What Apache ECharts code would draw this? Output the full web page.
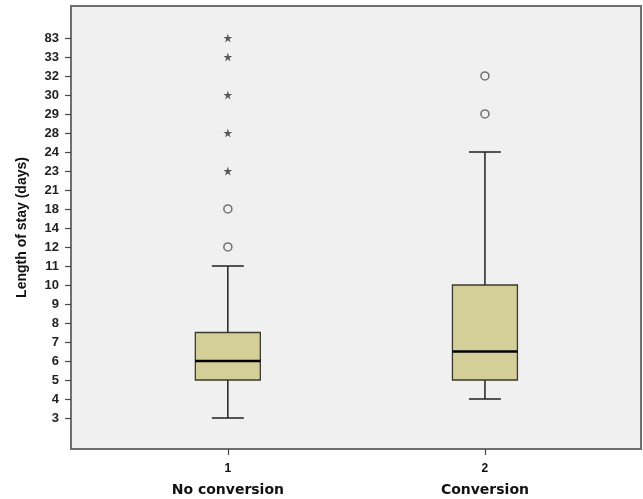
<!DOCTYPE html>
<html>
<head>
<meta charset="utf-8">
<script src="https://cdn.jsdelivr.net/npm/echarts@6/dist/echarts.min.js"></script>
<style>
html,body{margin:0;padding:0;background:#fff;}
#chart{width:643px;height:499px;}
</style>
</head>
<body>
<div id="chart"></div>
<script>
// Ordinal y-axis tick labels (evenly spaced in the original)
const yTickLabels = [3, 4, 5, 6, 7, 8, 9, 10, 11, 12, 14, 18, 21, 23, 24, 28, 29, 30, 32, 33, 83];
const groupIds = [1, 2];
const categories = ['No conversion', 'Conversion'];
const whiskerLow = [3, 4];
const q1 = [5, 5];
const median = [6, 6.5];
const q3 = [7.5, 10];
const whiskerHigh = [11, 24];
const circleOutliers = [[12, 18], [29, 32]];
const starOutliers = [[23, 28, 30, 33, 83], []];

// position of a value on the ordinal (rank) axis
function rankOf(v) {
  for (let i = 0; i < yTickLabels.length - 1; i++) {
    const a = yTickLabels[i], b = yTickLabels[i + 1];
    if (v >= a && v <= b) return i + (v - a) / (b - a);
  }
  return v < yTickLabels[0] ? 0 : yTickLabels.length - 1;
}

const boxData = groupIds.map((g, i) => [g, rankOf(whiskerLow[i]), rankOf(q1[i]), rankOf(median[i]), rankOf(q3[i]), rankOf(whiskerHigh[i])]);
const circleData = [];
const starData = [];
groupIds.forEach((g, i) => {
  circleOutliers[i].forEach(v => circleData.push([g, rankOf(v)]));
  starOutliers[i].forEach(v => starData.push([g, rankOf(v)]));
});
const tickIdx = yTickLabels.map((_, i) => i);

const BOX_W = 65, CAP_W = 32;
const lineStyle = {stroke: '#222', lineWidth: 1.5};

const chart = echarts.init(document.getElementById('chart'), null, {renderer: 'canvas'});
chart.setOption({
  animation: false,
  backgroundColor: '#ffffff',
  grid: {left: 71, right: 2, top: 6, bottom: 50, show: true, backgroundColor: '#f0f0f0', borderColor: '#6e6e6e', borderWidth: 2},
  xAxis: {
    type: 'value', min: 0.39, max: 2.607,
    splitLine: {show: false},
    axisLine: {show: true, onZero: false, lineStyle: {color: '#6e6e6e', width: 2}},
    axisTick: {show: true, customValues: groupIds, length: 6, lineStyle: {color: '#444', width: 1.2}},
    axisLabel: {
      customValues: groupIds, margin: 10,
      formatter: v => '{n|' + v + '}\n{c|' + categories[groupIds.indexOf(v)] + '}',
      rich: {
        n: {fontFamily: 'Liberation Sans', fontWeight: 'bold', fontSize: 12, color: '#111', lineHeight: 20},
        c: {fontFamily: 'DejaVu Sans', fontWeight: 'bold', fontSize: 14, color: '#111', lineHeight: 22}
      }
    }
  },
  yAxis: {
    type: 'value', min: -1.63, max: 21.68,
    name: 'Length of stay (days)', nameLocation: 'middle', nameGap: 42,
    nameTextStyle: {fontFamily: 'Liberation Sans', fontWeight: 'bold', fontSize: 14, color: '#111'},
    splitLine: {show: false},
    axisLine: {show: true, onZero: false, lineStyle: {color: '#6e6e6e', width: 2}},
    axisTick: {show: true, customValues: tickIdx, length: 6, lineStyle: {color: '#444', width: 1.2}},
    axisLabel: {
      customValues: tickIdx, margin: 12,
      fontFamily: 'Liberation Sans', fontWeight: 'bold', fontSize: 13, color: '#222',
      formatter: v => String(yTickLabels[Math.round(v)])
    }
  },
  series: [
    {
      type: 'custom',
      data: boxData,
      encode: {x: 0, y: [1, 2, 3, 4, 5]},
      renderItem: function (params, api) {
        const x = api.value(0);
        const pLow = api.coord([x, api.value(1)]);
        const pQ1 = api.coord([x, api.value(2)]);
        const pMed = api.coord([x, api.value(3)]);
        const pQ3 = api.coord([x, api.value(4)]);
        const pHigh = api.coord([x, api.value(5)]);
        const cx = pQ1[0];
        return {
          type: 'group',
          children: [
            {type: 'line', shape: {x1: cx, y1: pLow[1], x2: cx, y2: pQ1[1]}, style: lineStyle},
            {type: 'line', shape: {x1: cx, y1: pQ3[1], x2: cx, y2: pHigh[1]}, style: lineStyle},
            {type: 'line', shape: {x1: cx - CAP_W / 2, y1: pLow[1], x2: cx + CAP_W / 2, y2: pLow[1]}, style: lineStyle},
            {type: 'line', shape: {x1: cx - CAP_W / 2, y1: pHigh[1], x2: cx + CAP_W / 2, y2: pHigh[1]}, style: lineStyle},
            {type: 'rect', shape: {x: cx - BOX_W / 2, y: pQ3[1], width: BOX_W, height: pQ1[1] - pQ3[1]},
              style: {fill: '#d4cf98', stroke: '#3a3a30', lineWidth: 1.3}},
            {type: 'line', shape: {x1: cx - BOX_W / 2, y1: pMed[1], x2: cx + BOX_W / 2, y2: pMed[1]},
              style: {stroke: '#000', lineWidth: 2.6}}
          ]
        };
      }
    },
    {
      type: 'scatter',
      data: circleData,
      symbol: 'circle', symbolSize: 8,
      itemStyle: {color: '#f0f0f0', borderColor: '#555', borderWidth: 1.6}
    },
    {
      type: 'scatter',
      data: starData,
      symbol: 'path://M50,0 L61,35 L98,35 L68,57 L79,91 L50,70 L21,91 L32,57 L2,35 L39,35 Z',
      symbolSize: 9,
      itemStyle: {color: '#333'}
    }
  ]
});
</script>
</body>
</html>
